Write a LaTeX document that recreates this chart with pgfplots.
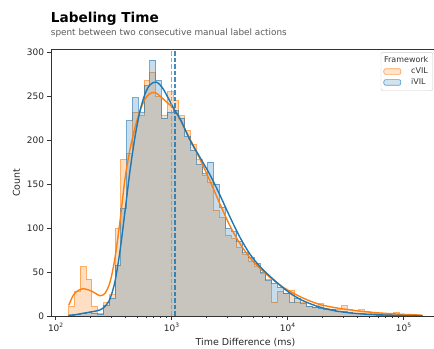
\documentclass[border=0pt]{standalone}
\usepackage{pgfplots}
\pgfplotsset{compat=1.18}
\usepackage{pgfplotstable}
\usepackage{fontspec}
\setmainfont{DejaVu Sans}

\definecolor{tabblue}{HTML}{1F77B4}
\definecolor{taborange}{HTML}{FF7F0E}
\definecolor{spine}{HTML}{333333}

% Histogram counts per log10 bin (left edge, last row closes the final bin)
\pgfplotstableread{
lx   cvil ivil
2.11 11   1
2.16 28   2
2.21 56   3
2.26 42   4
2.31 11   3
2.36 3    2
2.41 15   12
2.46 24   20
2.51 100  58
2.56 178  122
2.61 185  222
2.66 232  248
2.71 228  231
2.76 268  262
2.81 277  291
2.86 250  268
2.91 228  225
2.96 255  232
3.01 245  234
3.06 228  225
3.11 211  204
3.16 195  188
3.21 178  172
3.26 160  162
3.31 152  175
3.36 120  150
3.41 112  124
3.46 92   100
3.51 88   96
3.56 78   85
3.61 70   72
3.66 62   67
3.71 56   60
3.76 48   50
3.81 42   40
3.86 16   37
3.91 28   33
3.96 26   26
4.01 29   15
4.06 16   20
4.11 15   14
4.16 11   11
4.21 10   10
4.26 14   9
4.31 9    8
4.36 8    8
4.41 7    5
4.46 12   5
4.51 7    4
4.56 6    3
4.61 7    3
4.66 5    2
4.71 3    2
4.76 3    1
4.81 2    1
4.86 2    1
4.91 4    1
4.96 2    1
5.01 1    1
5.06 1    0
5.11 1    1
5.16 1    1
}\histdata

% Kernel density estimates, scaled to counts
\pgfplotstableread{
lx    d
2.110 12
2.152 24
2.192 29
2.238 31
2.296 29
2.339 26
2.382 23
2.425 26
2.468 39
2.511 67
2.554 109
2.597 157
2.640 190
2.684 215
2.727 234
2.770 247
2.813 253
2.856 254
2.899 250
2.957 243
3.014 236
3.072 223
3.157 201
3.244 178
3.331 153
3.416 127
3.503 102
3.589 82
3.675 66
3.761 54
3.847 44
3.933 35
4.019 28
4.106 22
4.192 17
4.278 13
4.365 10.5
4.451 8.5
4.537 7
4.623 5.5
4.710 4.3
4.796 3.4
4.882 2.7
4.968 2
5.054 1.5
5.158 1
}\kdecvil

\pgfplotstableread{
lx    d
2.110 0.8
2.166 1.5
2.209 2.5
2.253 3.5
2.296 4.5
2.339 5.5
2.382 7
2.425 11
2.468 20
2.511 40
2.554 75
2.597 120
2.640 166
2.684 205
2.727 234
2.770 253
2.813 263
2.865 266
2.916 260
2.968 248
3.020 235
3.072 224
3.157 200
3.244 180
3.331 160
3.416 137
3.503 112
3.589 89
3.675 70
3.761 56
3.847 45
3.933 35
4.019 26
4.106 19
4.192 14
4.278 10
4.365 7
4.451 5
4.537 3.5
4.623 2.5
4.796 1.3
4.968 0.7
5.158 0.3
}\kdeivil

\begin{document}
\begin{tikzpicture}
\path[use as bounding box] (0,0) rectangle (434bp,349bp);
\clip (0,0) rectangle (434bp,349bp);
\begin{axis}[
  name=ax,
  at={(51bp,33bp)}, anchor=south west,
  scale only axis, width=389bp, height=266.5bp,
  xmin=1.958, xmax=5.312, ymin=0, ymax=303,
  axis line style={spine, line width=0.8bp},
  every tick/.style={spine, line width=0.8bp},
  tick align=outside, tick pos=left,
  major tick length=3.5bp, minor tick length=2bp,
  xtick={2,3,4,5},
  xticklabels={10\textsuperscript{2},10\textsuperscript{3},10\textsuperscript{4},10\textsuperscript{5}},
  minor xtick={2.30103,2.47712,2.60206,2.69897,2.77815,2.84510,2.90309,2.95424,
               3.30103,3.47712,3.60206,3.69897,3.77815,3.84510,3.90309,3.95424,
               4.30103,4.47712,4.60206,4.69897,4.77815,4.84510,4.90309,4.95424,5.30103},
  ytick={0,50,100,150,200,250,300},
  /pgf/number format/assume math mode=true,
  tick label style={font=\fontsize{9}{10}\selectfont, text=black!85},
  xlabel={Time Difference (ms)},
  ylabel={Count},
  label style={font=\fontsize{9.5}{11}\selectfont, text=black!85},
  legend style={at={(0.982,0.99)}, anchor=north east,
    font=\fontsize{8}{9.5}\selectfont, text=black!80,
    draw=black!20, rounded corners=2bp, fill=white, fill opacity=0.8, text opacity=1,
    inner sep=2.5bp, row sep=-0.5bp, column sep=8bp},
  legend cell align=left,
]
% layered histograms
\addplot[forget plot, const plot, draw=taborange, draw opacity=0.6, line width=0.8bp,
  fill=taborange, fill opacity=0.25] table[x=lx, y=cvil] \histdata \closedcycle;
\addplot[forget plot, const plot, draw=tabblue, draw opacity=0.6, line width=0.8bp,
  fill=tabblue, fill opacity=0.25] table[x=lx, y=ivil] \histdata \closedcycle;
% density curves
\addplot[forget plot, smooth, taborange, line width=1.4bp] table[x=lx, y=d] \kdecvil;
\addplot[forget plot, smooth, tabblue, line width=1.4bp] table[x=lx, y=d] \kdeivil;
% medians
\addplot[forget plot, taborange, line width=1.2bp, draw opacity=0.85, dash pattern=on 4.5bp off 2bp]
  coordinates {(2.998,0) (2.998,303)};
\addplot[forget plot, tabblue, line width=1.2bp, draw opacity=0.85, dash pattern=on 4.5bp off 2bp]
  coordinates {(3.027,0) (3.027,303)};
% legend
\addlegendimage{empty legend}
\addlegendentry{\hspace*{-27bp}Framework}
\addlegendimage{area legend, draw=taborange!70, fill=taborange!25, line width=0.7bp}
\addlegendentry{cVIL}
\addlegendimage{area legend, draw=tabblue!70, fill=tabblue!25, line width=0.7bp}
\addlegendentry{iVIL}
\end{axis}
\node[anchor=base west, inner sep=0, font=\bfseries\fontsize{13.7}{16}\selectfont]
  at (50.7bp,326.3bp) {Labeling Time};
\node[anchor=base west, inner sep=0, text=black!65, font=\fontsize{8.9}{10}\selectfont]
  at (50.7bp,313.5bp) {spent between two consecutive manual label actions};
\end{tikzpicture}
\end{document}
